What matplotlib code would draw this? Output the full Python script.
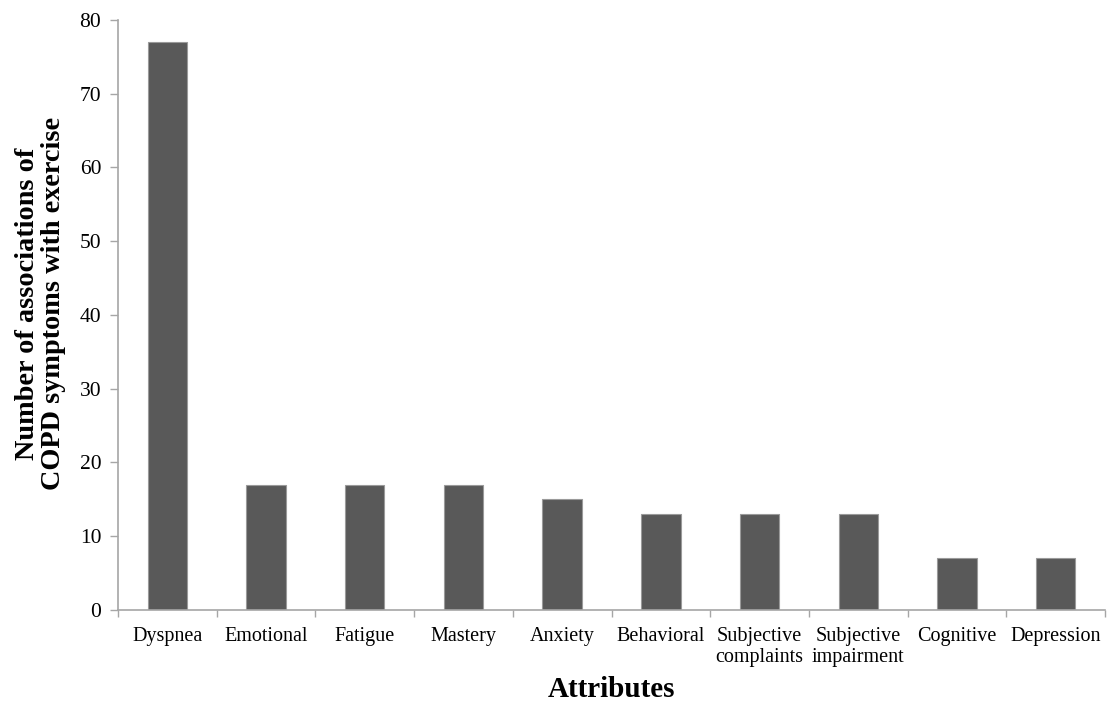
import matplotlib.pyplot as plt
import numpy as np

# Datos
atributos = ["Dyspnea", "Emotional", "Fatigue", "Mastery", "Anxiety", "Behavioral",
             "Subjective\ncomplaints", "Subjective\nimpairment", "Cognitive", "Depression"]
asociaciones = [77, 17, 17, 17, 15, 13, 13, 13, 7, 7]

plt.rcParams["font.family"] = ["Liberation Serif", "DejaVu Serif"]

fig = plt.figure(figsize=(11.09, 7.03), dpi=100)
ax = fig.add_axes([0.1064, 0.1323, 0.89, 0.8393])

x = np.arange(len(atributos))
ax.bar(x, asociaciones, width=0.4, color="#595959", edgecolor="#9a9a9a", linewidth=0.8)

ax.set_xlim(-0.5, len(atributos) - 0.5)
ax.set_ylim(0, 80)
ax.set_yticks(range(0, 81, 10))

# etiquetas centradas, marcas en los límites de categoría
ax.set_xticks(x)
ax.set_xticklabels(atributos, fontsize=14.5, va="top")
ax.tick_params(axis="x", which="major", length=0, pad=12)
ax.set_xticks(np.arange(-0.5, len(atributos)), minor=True)
ax.tick_params(axis="x", which="minor", length=5, color="#a6a6a6", width=1)
ax.tick_params(axis="y", labelsize=15.5, length=6, color="#a6a6a6", width=1, pad=6)

for lado in ["top", "right"]:
    ax.spines[lado].set_visible(False)
for lado in ["left", "bottom"]:
    ax.spines[lado].set_color("#a6a6a6")
    ax.spines[lado].set_linewidth(1.2)

ax.set_ylabel("Number of associations of\nCOPD symptoms with exercise",
              fontsize=20.3, fontweight="bold", linespacing=1.05)
ax.yaxis.set_label_coords(-0.053, 0.519)
ax.set_xlabel("Attributes", fontsize=21, fontweight="bold", labelpad=6)

fig.savefig("out.png", dpi=100)
